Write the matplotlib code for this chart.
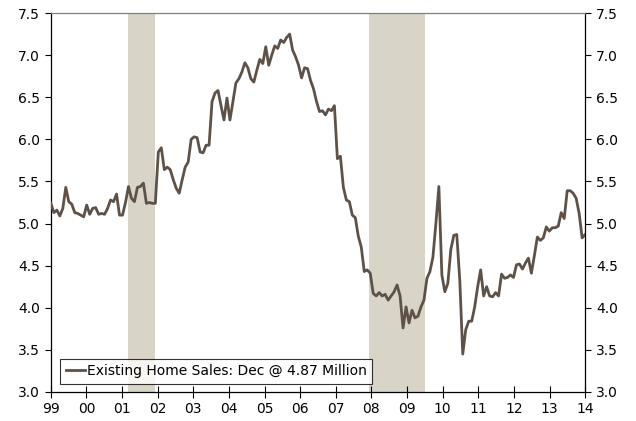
import numpy as np
import matplotlib
matplotlib.use("Agg")
import matplotlib.pyplot as plt

# existing home sales, SAAR, millions, Jan 1999 - Dec 2013
sales_1999 = [5.24, 5.13, 5.16, 5.09, 5.18, 5.43, 5.26, 5.23, 5.13, 5.12, 5.10, 5.08]
sales_2000 = [5.22, 5.11, 5.18, 5.19, 5.11, 5.12, 5.11, 5.18, 5.28, 5.26, 5.35, 5.10]
sales_2001 = [5.10, 5.25, 5.44, 5.30, 5.26, 5.43, 5.44, 5.48, 5.24, 5.25, 5.24, 5.24]
sales_2002 = [5.85, 5.90, 5.64, 5.67, 5.64, 5.52, 5.42, 5.36, 5.52, 5.67, 5.73, 6.00]
sales_2003 = [6.03, 6.02, 5.85, 5.84, 5.93, 5.93, 6.45, 6.55, 6.58, 6.40, 6.23, 6.49]
sales_2004 = [6.23, 6.45, 6.67, 6.72, 6.80, 6.91, 6.85, 6.72, 6.68, 6.82, 6.95, 6.90]
sales_2005 = [7.10, 6.88, 7.00, 7.11, 7.08, 7.18, 7.15, 7.21, 7.25, 7.06, 6.98, 6.88]
sales_2006 = [6.73, 6.85, 6.84, 6.70, 6.60, 6.45, 6.33, 6.34, 6.29, 6.36, 6.34, 6.40]
sales_2007 = [5.77, 5.80, 5.43, 5.28, 5.26, 5.10, 5.07, 4.85, 4.72, 4.43, 4.45, 4.41]
sales_2008 = [4.17, 4.14, 4.18, 4.14, 4.16, 4.09, 4.14, 4.19, 4.27, 4.14, 3.76, 4.01]
sales_2009 = [3.82, 3.97, 3.88, 3.90, 4.01, 4.09, 4.35, 4.43, 4.60, 5.00, 5.44, 4.39]
sales_2010 = [4.19, 4.29, 4.69, 4.86, 4.87, 4.33, 3.45, 3.74, 3.84, 3.84, 4.01, 4.25]
sales_2011 = [4.45, 4.14, 4.25, 4.14, 4.13, 4.18, 4.14, 4.40, 4.35, 4.36, 4.39, 4.36]
sales_2012 = [4.51, 4.52, 4.46, 4.53, 4.59, 4.41, 4.62, 4.84, 4.80, 4.83, 4.96, 4.91]
sales_2013 = [4.95, 4.95, 4.97, 5.13, 5.06, 5.39, 5.39, 5.36, 5.30, 5.12, 4.83, 4.87]

sales = (sales_1999 + sales_2000 + sales_2001 + sales_2002 + sales_2003 +
         sales_2004 + sales_2005 + sales_2006 + sales_2007 + sales_2008 +
         sales_2009 + sales_2010 + sales_2011 + sales_2012 + sales_2013)

recessions = [(2001.17, 2001.92), (2007.92, 2009.5)]
year_ticks = list(range(1999, 2015))
year_labels = [f"{y % 100:02d}" for y in year_ticks]
y_ticks = [3.0, 3.5, 4.0, 4.5, 5.0, 5.5, 6.0, 6.5, 7.0, 7.5]

line_color = "#5e5248"
shade_color = "#d8d4c8"

# monthly points stretched across the full 1999-2014 axis
x = 1999 + np.arange(len(sales)) * 15 / (len(sales) - 1)

fig = plt.figure(figsize=(6.36, 4.21), dpi=100)
ax = fig.add_axes([0.080, 0.069, 0.840, 0.900])

for start, end in recessions:
    ax.axvspan(start, end, color=shade_color, lw=0, zorder=0)

ax.plot(x, sales, color=line_color, lw=2.0, zorder=3,
        label="Existing Home Sales: Dec @ 4.87 Million")

ax.set_xlim(1999, 2014)
ax.set_ylim(3.0, 7.5)
ax.set_xticks(year_ticks)
ax.set_xticklabels(year_labels)
ax.set_yticks(y_ticks)
ax.set_yticklabels([f"{v:.1f}" for v in y_ticks])

ax.tick_params(axis="x", direction="inout", length=8, width=0.8,
               labelsize=10, pad=3)
ax.tick_params(axis="y", direction="out", length=4, width=0.8,
               labelsize=10, left=True, right=True,
               labelleft=True, labelright=True, pad=4)

for side in ["left", "bottom", "right"]:
    ax.spines[side].set_color("black")
    ax.spines[side].set_linewidth(0.9)
ax.spines["top"].set_color("#808080")
ax.spines["top"].set_linewidth(0.9)

leg = ax.legend(loc="lower left", bbox_to_anchor=(0.017, 0.022),
                fontsize=10, frameon=True, fancybox=False,
                handlelength=1.4, handletextpad=0.15, borderpad=0.4,
                borderaxespad=0)
leg.get_frame().set_edgecolor("black")
leg.get_frame().set_linewidth(0.8)

fig.savefig("out.png", dpi=100)
